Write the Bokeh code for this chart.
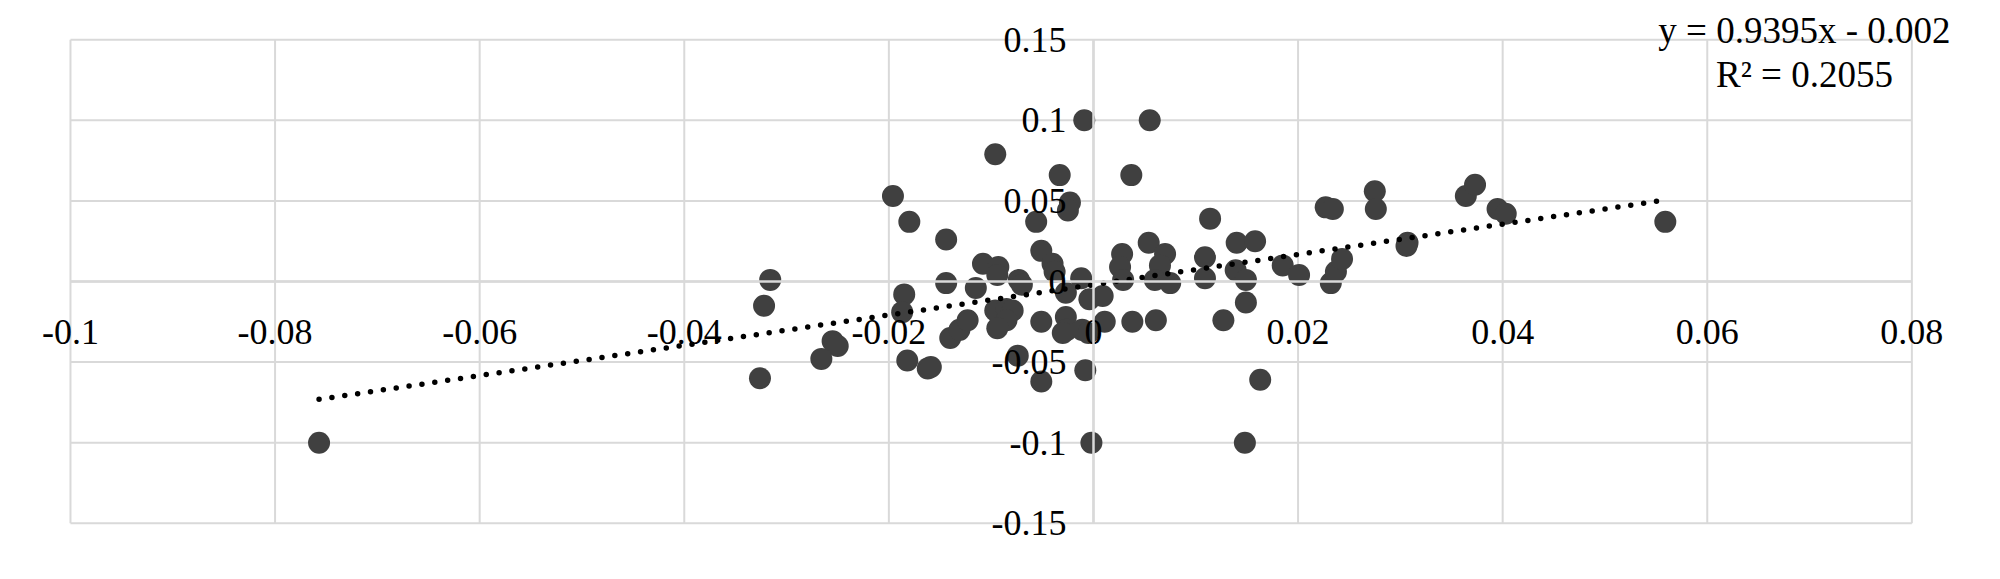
from bokeh.plotting import figure
from bokeh.models import ColumnDataSource, FixedTicker, Label, Range1d
from bokeh.embed import file_html
from bokeh.resources import INLINE

# ---- data ----
x_vals = [-0.0757, -0.0316, -0.0322, -0.0326, -0.0255, -0.0250, -0.0266, -0.0196, -0.0180, -0.0144,
          -0.0185, -0.0187, -0.0182, -0.0162, -0.0159, -0.0144, -0.0140, -0.0131, -0.0123, -0.0115,
          -0.0108, -0.0093, -0.0094, -0.0096, -0.0096, -0.0085, -0.0079, -0.0085, -0.0094, -0.0073,
          -0.0070, -0.0074, -0.0056, -0.0051, -0.0040, -0.0038, -0.0051, -0.0051, -0.0033, -0.0023,
          -0.0025, -0.0027, -0.0027, -0.0026, -0.0030, -0.0012, -0.0009, -0.0004, 0.0009, -0.0011,
          -0.0005, 0.0011, -0.0008, -0.0002, 0.0055, 0.0037, 0.0114, 0.0054, 0.0028, 0.0026,
          0.0029, 0.0070, 0.0065, 0.0060, 0.0075, 0.0109, 0.0109, 0.0140, 0.0158, 0.0139,
          0.0149, 0.0149, 0.0185, 0.0201, 0.0227, 0.0234, 0.0232, 0.0237, 0.0243, 0.0275,
          0.0276, 0.0307, 0.0306, 0.0364, 0.0373, 0.0395, 0.0403, 0.0559, 0.0038, 0.0061,
          0.0127, 0.0163, 0.0148]
y_vals = [-0.100, 0.001, -0.015, -0.060, -0.037, -0.040, -0.048, 0.053, 0.037, 0.026,
          -0.008, -0.019, -0.049, -0.054, -0.053, -0.001, -0.035, -0.030, -0.024, -0.004,
          0.011, 0.009, 0.004, 0.079, -0.018, -0.017, -0.018, -0.024, -0.029, 0.001,
          -0.002, -0.046, 0.037, 0.019, 0.011, 0.006, -0.025, -0.062, 0.066, 0.049,
          0.044, -0.007, -0.022, -0.030, -0.032, 0.002, 0.100, -0.011, -0.009, -0.030,
          -0.032, -0.025, -0.055, -0.100, 0.100, 0.066, 0.039, 0.024, 0.017, 0.009,
          0.001, 0.017, 0.010, 0.001, -0.001, 0.015, 0.002, 0.024, 0.025, 0.007,
          0.001, -0.013, 0.010, 0.004, 0.046, 0.045, -0.001, 0.006, 0.014, 0.056,
          0.045, 0.024, 0.022, 0.053, 0.060, 0.045, 0.042, 0.037, -0.025, -0.024,
          -0.024, -0.061, -0.100]

trend_slope = 0.9395
trend_intercept = -0.002
equation_text = "y = 0.9395x - 0.002"
r2_text = "R² = 0.2055"

x_ticks = [-0.1, -0.08, -0.06, -0.04, -0.02, 0, 0.02, 0.04, 0.06, 0.08]
x_tick_labels = ["-0.1", "-0.08", "-0.06", "-0.04", "-0.02", "0", "0.02", "0.04", "0.06", "0.08"]
y_ticks = [-0.15, -0.1, -0.05, 0, 0.05, 0.1, 0.15]
y_tick_labels = ["-0.15", "-0.1", "-0.05", "0", "0.05", "0.1", "0.15"]

FONT = "Liberation Serif"
GRID = "#d9d9d9"
FS = "36px"

# frame covers the whole canvas; the gridded box (-0.1..0.08, -0.15..0.15) sits inside it
p = figure(width=1984, height=563, output_backend="svg", toolbar_location=None,
           x_range=Range1d(-0.10684, 0.08710), y_range=Range1d(-0.17494, 0.17432),
           min_border=0)
p.background_fill_color = "white"
p.border_fill_color = "white"
p.outline_line_color = None
p.grid.visible = False

# gridlines limited to the gridded box
xmin, xmax = x_ticks[0], x_ticks[-1]
ymin, ymax = y_ticks[0], y_ticks[-1]
p.segment(x0=x_ticks, x1=x_ticks, y0=[ymin] * len(x_ticks), y1=[ymax] * len(x_ticks),
          line_color=GRID, line_width=2)
p.segment(x0=[xmin] * len(y_ticks), x1=[xmax] * len(y_ticks), y0=y_ticks, y1=y_ticks,
          line_color=GRID, line_width=2)

for ax, ticks, labels in ((p.xaxis[0], x_ticks, x_tick_labels), (p.yaxis[0], y_ticks, y_tick_labels)):
    ax.ticker = FixedTicker(ticks=ticks)
    ax.major_label_overrides = {t: l for t, l in zip(ticks, labels)}
    ax.fixed_location = 0
    ax.bounds = (ticks[0], ticks[-1])
    ax.axis_line_color = GRID
    ax.axis_line_width = 2.5
    ax.major_tick_line_color = None
    ax.minor_tick_line_color = None
    ax.major_label_text_font = FONT
    ax.major_label_text_font_size = FS
    ax.major_label_text_color = "black"
p.xaxis.major_label_standoff = 32
p.yaxis.major_label_standoff = 21

src = ColumnDataSource(dict(x=x_vals, y=y_vals))
p.scatter("x", "y", source=src, size=22, fill_color="#404040", line_color="#404040", line_width=0)

x0, x1 = min(x_vals), max(x_vals)
p.line([x0, x1], [trend_slope * x0 + trend_intercept, trend_slope * x1 + trend_intercept],
       line_color="black", line_width=5.5, line_dash="0 13", line_cap="round")

p.add_layout(Label(x=0.0695, y=0.1554, text=equation_text, text_align="center",
                   text_baseline="alphabetic", text_font=FONT, text_font_size="37px", text_color="black"))
p.add_layout(Label(x=0.0695, y=0.1287, text=r2_text, text_align="center",
                   text_baseline="alphabetic", text_font=FONT, text_font_size="37px", text_color="black"))

open("out.html", "w").write(file_html(p, INLINE))
